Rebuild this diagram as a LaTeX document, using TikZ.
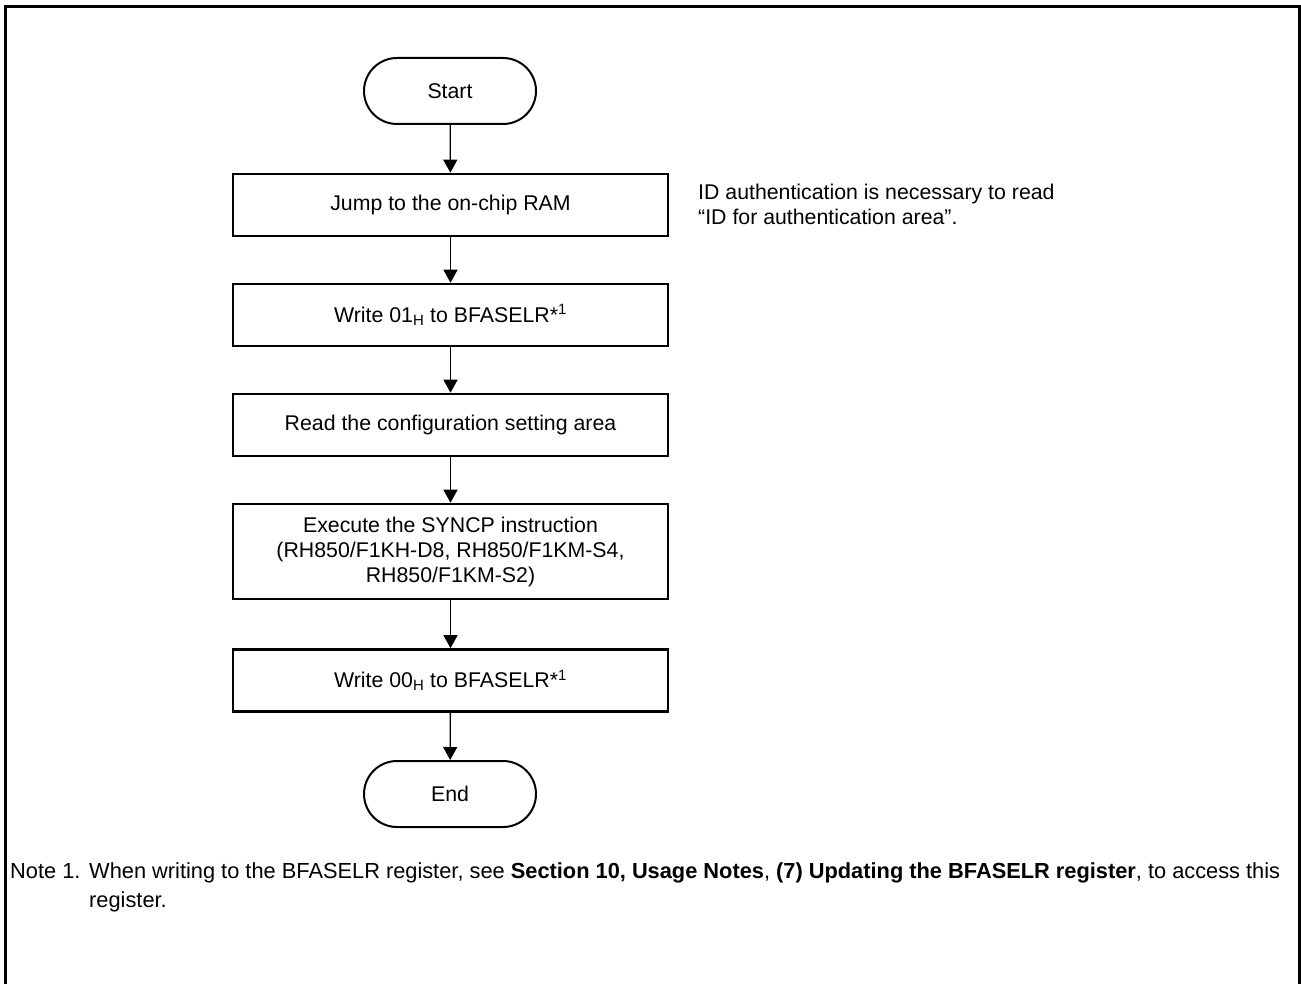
\documentclass[tikz,border=0pt]{standalone}
\usepackage{fontspec}
\setmainfont{Liberation Sans}
\usetikzlibrary{arrows.meta,shapes.misc}

\begin{document}
\begin{tikzpicture}[x=1pt,y=-1pt,
  every node/.style={font=\fontsize{21.3}{25}\selectfont},
  frameline/.style={line width=2.6pt},
  terminal/.style={draw, rounded rectangle, line width=2pt,
    minimum width=172pt, minimum height=66pt, inner sep=0pt},
  process/.style={draw, rectangle, line width=2.6pt,
    minimum width=435pt, inner sep=0pt, align=center},
  flow/.style={line width=1.3pt, -{Triangle[length=13pt,width=14pt]}},
  plain/.style={inner sep=0pt, anchor=base west},
  notefont/.style={font=\fontsize{21.8}{25}\selectfont}
]
\useasboundingbox (0,0) rectangle (1301,984);

% open frame: left, top and right sides
\draw[frameline] (5.5,984) -- (5.5,6.5) -- (1299.5,6.5) -- (1299.5,984);

% flowchart
\node[terminal] (start) at (450,91) {Start};
\node[process, minimum height=62pt] (jump) at (450.5,205) {Jump to the on-chip RAM};
\node[process, minimum height=62pt] (wr1) at (450.5,315) {Write 01\textsubscript{H} to BFASELR*\textsuperscript{1}};
\node[process, minimum height=62pt] (rd) at (450.5,425) {Read the configuration setting area};
\node[process, minimum height=95pt] (sync) at (450.5,551.5) {Execute the SYNCP instruction\\(RH850/F1KH-D8, RH850/F1KM-S4,\\RH850/F1KM-S2)};
\node[process, minimum height=62pt] (wr0) at (450.5,680.5) {Write 00\textsubscript{H} to BFASELR*\textsuperscript{1}};
\node[terminal] (end) at (450,794) {End};

\draw[flow] (start) -- (jump);
\draw[flow] (jump) -- (wr1);
\draw[flow] (wr1) -- (rd);
\draw[flow] (rd) -- (sync);
\draw[flow] (sync) -- (wr0);
\draw[flow] (wr0) -- (end);

% side remark
\node[plain] (idnote) at (698,200) {ID authentication is necessary to read};
\node[plain] (idnote2) at (698,225) {“ID for authentication area”.};

% footnote
\node[plain, notefont] (notelabel) at (10,878) {Note 1.};
\node[plain, notefont] (notetext) at (89,878) {When writing to the BFASELR register, see \textbf{Section 10, Usage Notes}, \textbf{(7) Updating the BFASELR register}, to access this};
\node[plain, notefont] (notetext2) at (89,907) {register.};
\end{tikzpicture}
\end{document}
